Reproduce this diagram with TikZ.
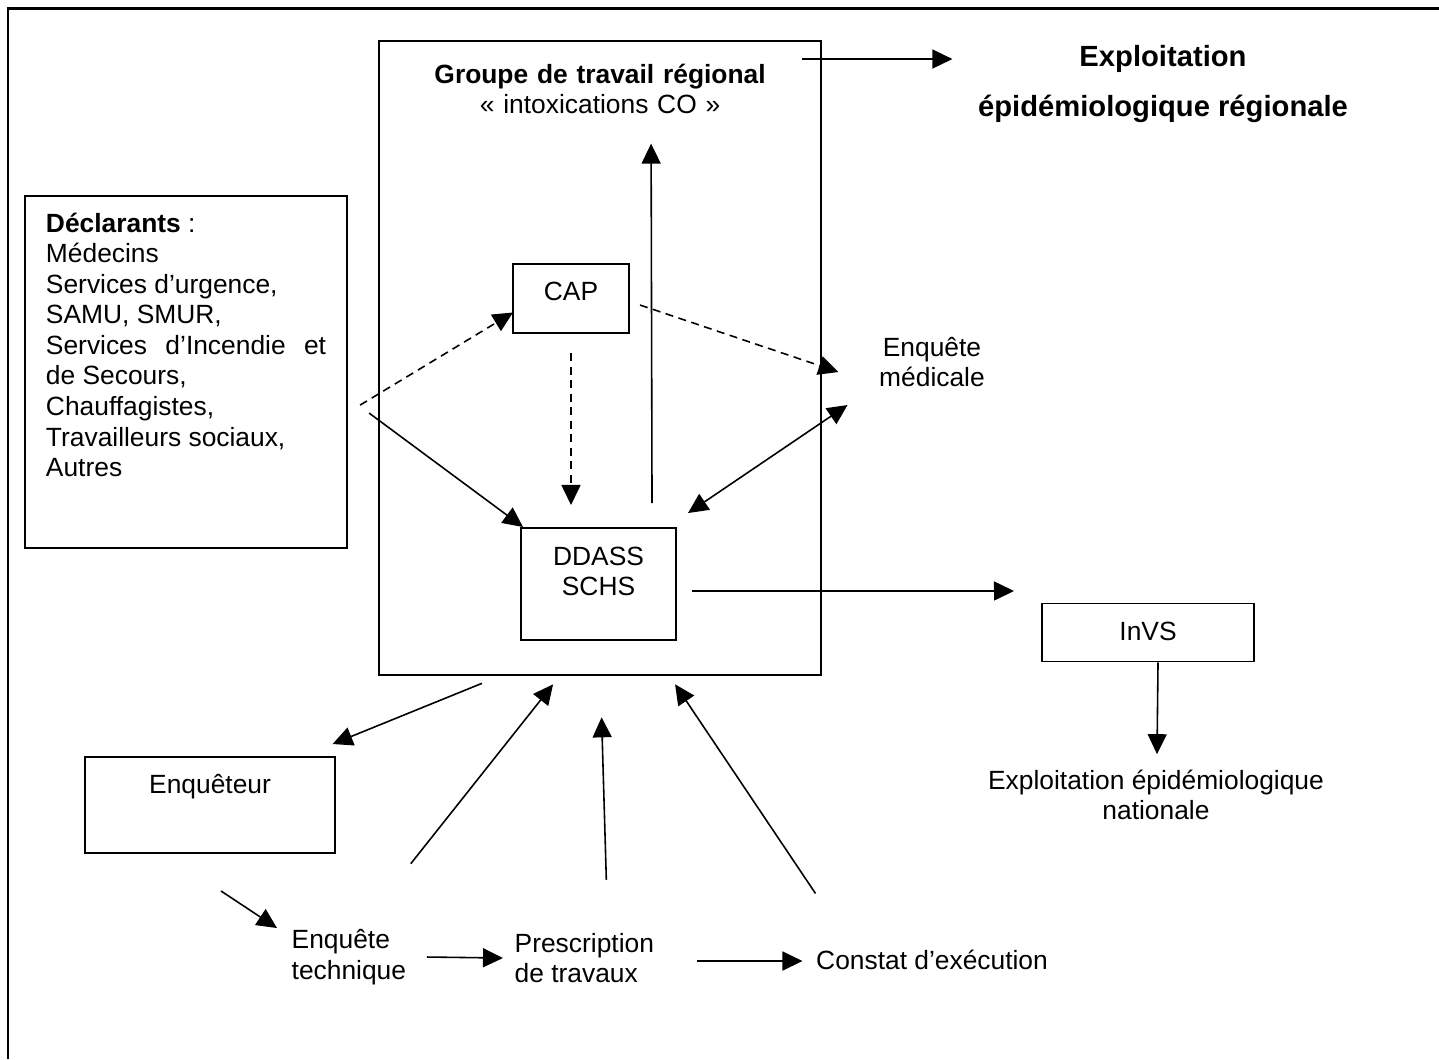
\documentclass[tikz,border=0pt]{standalone}
\usepackage{fontspec}
\setmainfont{Liberation Sans}
\usepackage{tikz}
\usetikzlibrary{arrows.meta,calc}

\begin{document}
\begin{tikzpicture}[x=0.01cm,y=-0.01cm,
  font=\fontsize{7.5pt}{8.7pt}\selectfont,
  >={Triangle[length=0.2cm,width=0.19cm]},
  box/.style={draw,line width=0.55pt,inner ysep=0pt,anchor=north west,text height=0.36cm},
  txt/.style={inner sep=0pt,align=center},
  arr/.style={line width=0.45pt,->},
  dasharr/.style={arr,dash pattern=on 0.08cm off 0.055cm}]
\useasboundingbox (0,0) rectangle (1439,1059);
\draw[line width=0.7pt] (8,1059) |- (1439,8.4);

% boxes
\node[box,text width=2.80cm,inner xsep=0.21cm,align=justify,text depth=3.16cm] (decl) at (24,195)
  {\textbf{Déclarants} :\\ Médecins\\ Services d’urgence,\\ SAMU, SMUR,\\ Services d’Incendie et\linebreak de Secours,\\ Chauffagistes,\\ Travailleurs sociaux,\\ Autres};
\node[box,text width=4.42cm,inner xsep=0pt,align=center,text height=0.42cm,text depth=5.92cm] (groupe) at (378,40)
  {\textbf{Groupe de travail régional}\hspace*{0.18cm}\\« intoxications CO »\hspace*{0.18cm}};
\node[box,minimum width=1.16cm,text depth=0.33cm] (cap) at (512,263) {CAP};
\node[box,text width=1.55cm,inner xsep=0pt,align=center,text height=0.37cm,text depth=0.75cm] (ddass) at (520,527) {DDASS\\SCHS};
\node[box,minimum width=2.50cm,text depth=0.60cm] (enqueteur) at (84,756) {Enquêteur};
\node[box,minimum width=2.12cm,text height=0.37cm,text depth=0.21cm] (invs) at (1041,602.5) {InVS};

% free texts
\node[txt] (medicale) at (932,362) {Enquête\\médicale};
\node[txt,font=\fontsize{8.3pt}{9.6pt}\selectfont\bfseries] (expreg) at (1163,84) {Exploitation\\[0.17cm]épidémiologique régionale};
\node[txt] (expnat) at (1156,795) {Exploitation épidémiologique\\nationale};
\node[txt,anchor=west,align=left] (techn) at (291,957) {Enquête\\technique};
\node[txt,anchor=west,align=left] (prescr) at (514,958) {Prescription\\de travaux};
\node[txt,anchor=west] (constat) at (815.5,960) {Constat d’exécution};

% arrows
\draw[arr] ($(groupe.north east)+(-20,19)$) -- ($(expreg.west)+(-25,-25)$);
\draw[dasharr] ($(decl.east)+(12,33)$) -- ($(cap.west)+(1,14)$);
\draw[arr] ($(decl.east)+(21,41)$) -- ($(ddass.north west)+(3,0)$);
\draw[dasharr,shorten <=0.19cm,shorten >=0.22cm] (cap.south) -- (cap.south |- ddass.north);
\draw[dasharr] ($(cap.east)+(10,6.5)$) -- ($(medicale.west)+(-40,10)$);
\draw[arr,<->] ($(ddass.north east)+(11,-14)$) -- ($(medicale.west)+(-31,43)$);
\draw[arr] ($(ddass.north east)+(-25,-24)$) -- ($(groupe.north)+(51,103.6)$);
\draw[arr] ($(ddass.east)+(15,7)$) -- ($(invs.west)+(-27,-41.5)$);
\draw[arr] ($(invs.south)+(10,0)$) -- ($(expnat.north)+(1,-15)$);
\draw[arr] ($(groupe.south west)+(104,7)$) -- ($(enqueteur.north east)+(-3.5,-12)$);
\draw[arr] ($(techn.north east)+(4,-65)$) -- ($(groupe.south)+(-47,8)$);
\draw[arr] ($(prescr.north)+(22,-52.5)$) -- ($(groupe.south)+(1.5,41)$);
\draw[arr] ($(constat.north west)+(0,-56)$) -- ($(groupe.south)+(75,8)$);
\draw[arr] ($(enqueteur.south)+(11,37)$) -- ($(techn.west)+(-14,-29)$);
\draw[arr] ($(techn.east)+(20,0)$) -- ($(prescr.west)+(-11,0)$);
\draw[arr] ($(prescr.east)+(42,3)$) -- ($(constat.west)+(-13,1)$);
\end{tikzpicture}
\end{document}
